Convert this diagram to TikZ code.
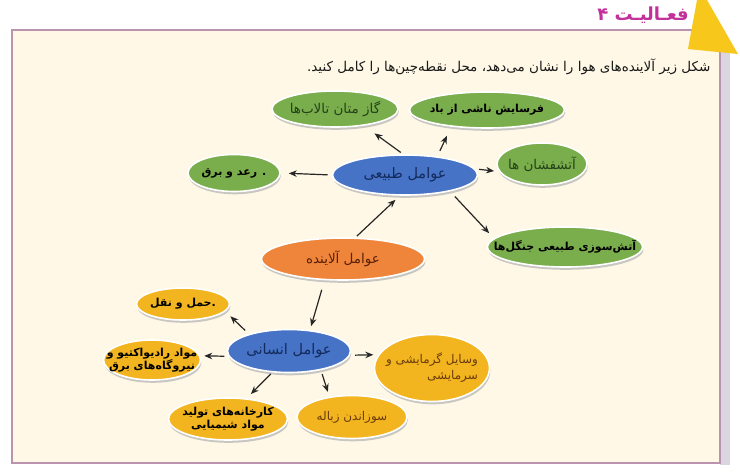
\documentclass[tikz,border=0pt]{standalone}
\usepackage{fontspec}
\usetikzlibrary{shapes.geometric,arrows.meta,shadows}
\TeXXeTstate=1
\newfontfamily\farsi[Script=Arabic]{DejaVu Sans}
\newcommand{\fatext}[1]{{\farsi\beginR #1\endR}}
\definecolor{cream}{HTML}{FFF8E6}
\definecolor{boxc}{HTML}{B994AC}
\definecolor{stripc}{HTML}{D9D6E0}
\definecolor{tric}{HTML}{F7C71C}
\definecolor{titlec}{HTML}{C2309A}
\definecolor{grnF}{HTML}{7AAD4C}
\definecolor{grnT}{HTML}{23421A}
\definecolor{bluF}{HTML}{4673C6}
\definecolor{bluT}{HTML}{142A5C}
\definecolor{orgF}{HTML}{EE853A}
\definecolor{orgT}{HTML}{5A200A}
\definecolor{ylwF}{HTML}{F3B51F}
\definecolor{ylwT}{HTML}{6A3C0C}
\begin{document}
\begin{tikzpicture}[x=1pt,y=-1pt,
  bub/.style={ellipse, inner xsep=-25pt, inner ysep=-8pt, draw=white, line width=1.6pt, align=center,
    drop shadow={shadow xshift=0.8pt, shadow yshift=-2.8pt, fill=black!30, opacity=0.7},
    font=\farsi\fontsize{13}{15}\selectfont},
  grn/.style={bub, fill=grnF, text=grnT, font=\farsi\fontsize{13.5}{16}\selectfont},
  blu/.style={bub, fill=bluF, text=bluT, font=\farsi\fontsize{14.5}{17}\selectfont},
  org/.style={bub, fill=orgF, text=orgT, font=\farsi\fontsize{13.5}{16}\selectfont},
  ylw/.style={bub, fill=ylwF, text=ylwT, font=\farsi\fontsize{12}{16}\selectfont},
  ans/.style={text=black, font=\farsi\bfseries\fontsize{11}{13.5}\selectfont},
  arr/.style={-{Stealth[length=8pt,width=6.5pt]}, line width=1.2pt, black!85}]
\useasboundingbox (0,0) rectangle (740,475);
\fill[white] (0,0) rectangle (740,475);
% frame
\fill[stripc] (720,50) rectangle (730,465);
\filldraw[fill=cream, draw=boxc, line width=1.2pt] (12,30) rectangle (720,463);
\fill[tric] (697,0) -- (707,0) -- (738,54) -- (688,49) -- cycle;
\node[text=titlec, font=\farsi\bfseries\fontsize{18}{20}\selectfont] (title) at (643,15) {\fatext{فعـالیـت ۴}};
\node[anchor=east, text=black!90, font=\farsi\fontsize{13.5}{15}\selectfont] (instr) at (714,67)
  {\fatext{شکل زیر آلاینده‌های هوا را نشان می‌دهد، محل نقطه‌چین‌ها را کامل کنید.}};
% nodes
\node[blu, minimum width=145pt, minimum height=40pt] (tabii) at (405,175) {\fatext{عوامل طبیعی}};
\node[grn, minimum width=126pt, minimum height=36pt] (gaz) at (335,109) {\fatext{گاز متان تالاب‌ها}};
\node[grn, ans, minimum width=155pt, minimum height=36pt] (fars) at (487,110) {\fatext{فرسایش ناشی از باد}};
\node[grn, minimum width=90pt, minimum height=42pt] (atash) at (542,164) {\fatext{آتشفشان ها}};
\node[grn, ans, minimum width=155pt, minimum height=40pt] (jangal) at (565,247) {\fatext{آتش‌سوزی طبیعی جنگل‌ها}};
\node[grn, ans, minimum width=92pt, minimum height=37pt] (raad) at (234,173) {\fatext{. رعد و برق}};
\node[org, minimum width=163pt, minimum height=42pt] (alay) at (343,259) {\fatext{عوامل آلاینده}};
\node[blu, minimum width=123pt, minimum height=43pt] (ensani) at (289,351) {\fatext{عوامل انسانی}};
\node[ylw, ans, minimum width=93pt, minimum height=32pt] (haml) at (183,304) {\fatext{.حمل و نقل}};
\node[ylw, ans, minimum width=97pt, minimum height=40pt] (radio) at (152,360) {\fatext{مواد رادیواکتیو و}\\\fatext{نیروگاه‌های برق}};
\node[ylw, minimum width=115pt, minimum height=67pt, align=right] (vasayel) at (432,368) {\fatext{وسایل گرمایشی و}\\\fatext{سرمایشی}};
\node[ylw, minimum width=110pt, minimum height=43pt] (zobale) at (352,417) {\fatext{سوزاندن زباله}};
\node[ylw, ans, minimum width=119pt, minimum height=42pt] (karkh) at (228,419) {\fatext{کارخانه‌های تولید}\\\fatext{مواد شیمیایی}};
% arrows
\draw[arr, shorten <=3pt, shorten >=13pt] (tabii.95) -- (gaz.-30);
\draw[arr, shorten <=6pt, shorten >=10pt] (tabii.30) -- (fars.205);
\draw[arr, shorten <=4pt, shorten >=8pt] (tabii.180) -- (raad.0);
\draw[arr, shorten <=4pt, shorten >=5pt] (tabii.5) -- (atash.190);
\draw[arr, shorten <=7pt, shorten >=7pt] (tabii.-20) -- (jangal.173);
\draw[arr, shorten <=2pt, shorten >=6pt] (alay.60) -- (tabii.-104);
\draw[arr, shorten <=10pt, shorten >=4pt] (alay.-131) -- (ensani.45);
\draw[arr, shorten <=5pt, shorten >=7pt] (ensani.157) -- (haml.-10);
\draw[arr, shorten <=4pt, shorten >=4pt] (ensani.185) -- (radio.5);
\draw[arr, shorten <=5pt, shorten >=5pt] (ensani.-4) -- (vasayel.166);
\draw[arr, shorten <=2pt, shorten >=6pt] (ensani.-128) -- (karkh.48);
\draw[arr, shorten <=4pt, shorten >=5pt] (ensani.-31) -- (zobale.138);
\end{tikzpicture}
\end{document}
